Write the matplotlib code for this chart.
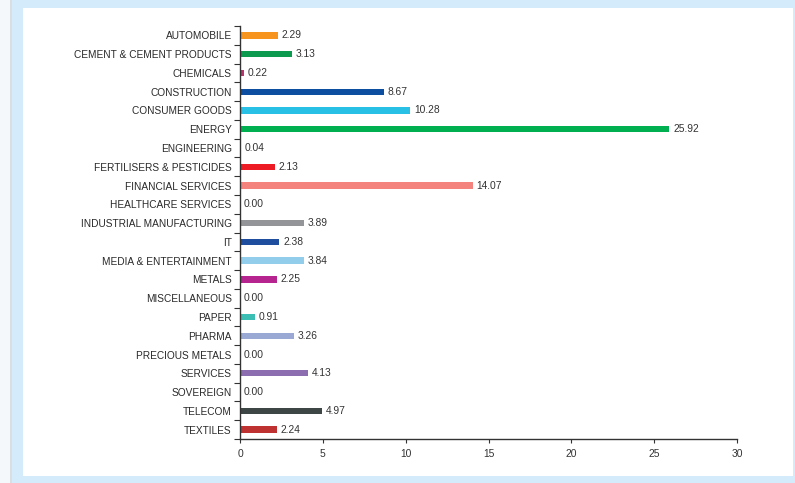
import matplotlib
matplotlib.use("Agg")
import matplotlib.pyplot as plt
from matplotlib.patches import Rectangle
import numpy as np

sectors = [
    "AUTOMOBILE", "CEMENT & CEMENT PRODUCTS", "CHEMICALS", "CONSTRUCTION",
    "CONSUMER GOODS", "ENERGY", "ENGINEERING", "FERTILISERS & PESTICIDES",
    "FINANCIAL SERVICES", "HEALTHCARE SERVICES", "INDUSTRIAL MANUFACTURING",
    "IT", "MEDIA & ENTERTAINMENT", "METALS", "MISCELLANEOUS", "PAPER",
    "PHARMA", "PRECIOUS METALS", "SERVICES", "SOVEREIGN", "TELECOM", "TEXTILES",
]
weights = [
    2.29, 3.13, 0.22, 8.67, 10.28, 25.92, 0.04, 2.13, 14.07, 0.00, 3.89,
    2.38, 3.84, 2.25, 0.00, 0.91, 3.26, 0.00, 4.13, 0.00, 4.97, 2.24,
]
bar_colors = [
    "#F7941D", "#0B9A4E", "#B8336A", "#0D4EA0", "#29C0E6", "#00B050",
    "#7FBF7F", "#ED1C24", "#F4837D", "#CCCCCC", "#939598", "#1F4E9E",
    "#92CDEB", "#B5248F", "#CCCCCC", "#3BBFB5", "#9AA8D4", "#CCCCCC",
    "#8B6DB0", "#CCCCCC", "#3D4545", "#BE3232",
]
x_ticks = [0, 5, 10, 15, 20, 25, 30]

plt.rcParams["font.family"] = ["Liberation Sans", "DejaVu Sans"]

W, H = 795, 483
fig = plt.figure(figsize=(W / 100, H / 100), dpi=100)
fig.patch.set_facecolor("#D3EBFA")

# light frame and white panel behind the chart
for rect in (
    Rectangle((0, 0), 10 / W, 1, facecolor="#F4F8FB"),
    Rectangle((10 / W, 0), 1.5 / W, 1, facecolor="#D9DEE2"),
    Rectangle((23 / W, 1 - 476 / H), (793 - 23) / W, (476 - 8) / H,
              facecolor="white"),
):
    rect.set_transform(fig.transFigure)
    rect.set_edgecolor("none")
    rect.set_zorder(-5)
    fig.patches.append(rect)

ax = fig.add_axes([240 / W, 1 - 439 / H, (737 - 240) / W, (439 - 26) / H])
ax.set_facecolor("none")
ax.set_zorder(2)

n = len(sectors)
y = np.arange(n)
ax.barh(y, weights, height=0.34, color=bar_colors, zorder=2)
for yi, v in zip(y, weights):
    ax.text(v + 0.22, yi, f"{v:.2f}", va="center", ha="left",
            fontsize=7.4, color="#333333")

ax.set_xlim(0, 30)
ax.set_ylim(n - 0.5, -0.5)
ax.set_xticks(x_ticks)
ax.set_xticklabels([str(t) for t in x_ticks])
ax.set_yticks(y)
ax.set_yticklabels(sectors)
ax.set_yticks(np.arange(-0.5, n, 1.0), minor=True)
ax.tick_params(axis="y", which="major", length=0, pad=6, labelsize=7.3,
               labelcolor="#2a2a2a")
ax.tick_params(axis="y", which="minor", length=4, width=0.8, color="#333333",
               direction="out")
ax.tick_params(axis="x", length=3, width=0.8, color="#333333", direction="out",
               labelsize=7.4, labelcolor="#333333", pad=4)

for side in ("top", "right"):
    ax.spines[side].set_visible(False)
for side in ("left", "bottom"):
    ax.spines[side].set_color("#333333")
    ax.spines[side].set_linewidth(1.0)

fig.savefig("out.png", dpi=100, facecolor=fig.get_facecolor())
